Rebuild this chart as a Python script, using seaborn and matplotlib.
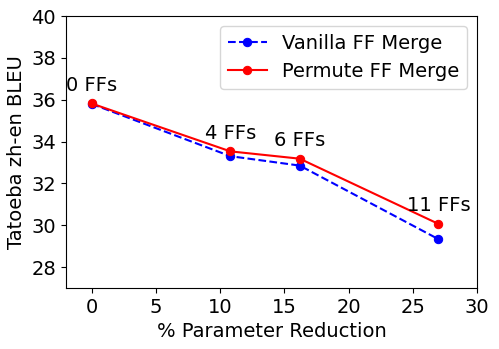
import pandas as pd
import matplotlib
matplotlib.use("Agg")
import matplotlib.pyplot as plt
import seaborn as sns

# values
reduction = [0, 10.8, 16.2, 27]
vanilla_bleu = [35.8, 33.3, 32.85, 29.33]
permute_bleu = [35.82, 33.53, 33.18, 30.06]
ff_labels = ["0 FFs", "4 FFs", "6 FFs", "11 FFs"]

df = pd.DataFrame({
    "reduction": reduction * 2,
    "bleu": vanilla_bleu + permute_bleu,
    "method": ["Vanilla FF Merge"] * 4 + ["Permute FF Merge"] * 4,
})

plt.rcParams['font.family'] = ['DejaVu Sans']
fig = plt.figure(figsize=(4.99, 3.49), dpi=100)
ax = fig.add_axes([0.132, 0.175, 0.824, 0.779])

sns.lineplot(data=df[df.method == "Vanilla FF Merge"], x="reduction", y="bleu",
             color="blue", linestyle="--", marker="o", markersize=6,
             markeredgecolor="blue", label="Vanilla FF Merge", ax=ax)
sns.lineplot(data=df[df.method == "Permute FF Merge"], x="reduction", y="bleu",
             color="red", marker="o", markersize=6,
             markeredgecolor="red", label="Permute FF Merge", ax=ax)

for x, y, lab in zip(reduction, permute_bleu, ff_labels):
    ax.annotate(lab, (x, y), xytext=(0, 13), textcoords="offset points",
                ha="center", va="center", fontsize=14)

ax.set_xlim(-2, 30)
ax.set_ylim(27, 40)
ax.set_xticks([0, 5, 10, 15, 20, 25, 30])
ax.set_yticks([28, 30, 32, 34, 36, 38, 40])
ax.tick_params(labelsize=14)
ax.set_xlabel("% Parameter Reduction", fontsize=14)
ax.set_ylabel("Tatoeba zh-en BLEU", fontsize=14)
ax.legend(loc="upper right", fontsize=14, handlelength=2)

fig.savefig("out.png", dpi=100)
